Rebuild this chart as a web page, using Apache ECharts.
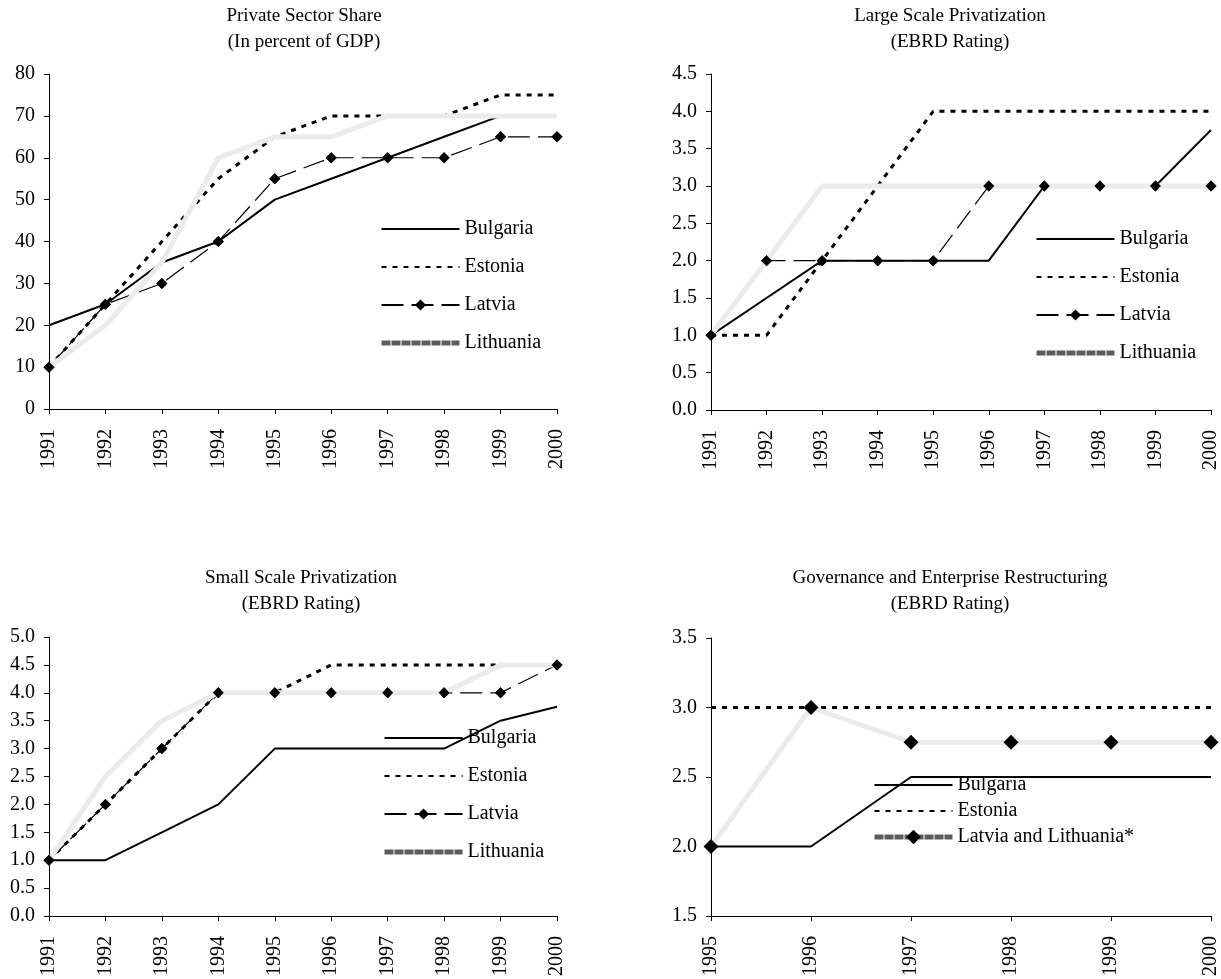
<!DOCTYPE html>
<html>
<head>
<meta charset="utf-8">
<title>Baltic States and Bulgaria: Privatization Indicators</title>
<script src="https://cdn.jsdelivr.net/npm/echarts@6/dist/echarts.min.js"></script>
<style>
  html, body { margin: 0; padding: 0; background: #fff; }
  #chart { width: 1221px; height: 979px; }
</style>
</head>
<body>
<div id="chart"></div>
<script>
// Years on the horizontal axes
const years9100 = ['1991', '1992', '1993', '1994', '1995', '1996', '1997', '1998', '1999', '2000'];
const years9500 = ['1995', '1996', '1997', '1998', '1999', '2000'];

// Private sector share (in percent of GDP)
const privBulgaria  = [20, 25, 35, 40, 50, 55, 60, 65, 70, 70];
const privEstonia   = [10, 25, 40, 55, 65, 70, 70, 70, 75, 75];
const privLatvia    = [10, 25, 30, 40, 55, 60, 60, 60, 65, 65];
const privLithuania = [10, 20, 35, 60, 65, 65, 70, 70, 70, 70];

// Large scale privatization (EBRD rating)
const largeBulgaria  = [1, 1.5, 2, 2, 2, 2, 3, 3, 3, 3.75];
const largeEstonia   = [1, 1, 2, 3, 4, 4, 4, 4, 4, 4];
const largeLatvia    = [1, 2, 2, 2, 2, 3, 3, 3, 3, 3];
const largeLithuania = [1, 2, 3, 3, 3, 3, 3, 3, 3, 3];

// Small scale privatization (EBRD rating)
const smallBulgaria  = [1, 1, 1.5, 2, 3, 3, 3, 3, 3.5, 3.75];
const smallEstonia   = [1, 2, 3, 4, 4, 4.5, 4.5, 4.5, 4.5, 4.5];
const smallLatvia    = [1, 2, 3, 4, 4, 4, 4, 4, 4, 4.5];
const smallLithuania = [1, 2.5, 3.5, 4, 4, 4, 4, 4, 4.5, 4.5];

// Governance and enterprise restructuring (EBRD rating)
const govBulgaria = [2, 2, 2.5, 2.5, 2.5, 2.5];
const govEstonia  = [3, 3, 3, 3, 3, 3];
const govLatLit   = [2, 3, 2.75, 2.75, 2.75, 2.75];

const FONT = '"Liberation Serif", "Times New Roman", serif';
const BLACK = '#000';
const PALE = '#ebebeb';       // light band used for Lithuania
const LEGEND_PALE = '#5c5c5c';

// Panel layout
const panels = [
  { title: 'Private Sector Share\n(In percent of GDP)', tx: 304, ty: 3,
    grid: { left: 49, top: 74, width: 508, height: 335 },
    cats: years9100, min: 0, max: 80, interval: 10, dec: 0,
    legend: { left: 379, top: 219, gap: 18, h: 14 } },
  { title: 'Large Scale Privatization\n(EBRD Rating)', tx: 950, ty: 3,
    grid: { left: 711, top: 74, width: 502, height: 336 },
    cats: years9100, min: 0, max: 4.5, interval: 0.5, dec: 1,
    legend: { left: 1034, top: 229, gap: 18, h: 14 } },
  { title: 'Small Scale Privatization\n(EBRD Rating)', tx: 301, ty: 565,
    grid: { left: 49, top: 637, width: 508, height: 325 },
    cats: years9100, min: 0, max: 5, interval: 0.5, dec: 1,
    legend: { left: 382, top: 728, gap: 18, h: 14 } },
  { title: 'Governance and Enterprise Restructuring\n(EBRD Rating)', tx: 950, ty: 565,
    grid: { left: 711, top: 638, width: 502, height: 324 },
    cats: years9500, min: 1.5, max: 3.5, interval: 0.5, dec: 1,
    legend: { left: 872, top: 775, gap: 6, h: 18 } }
];

const title = panels.map(p => ({
  text: p.title,
  left: p.tx,
  top: p.ty,
  textAlign: 'center',
  padding: 0,
  textStyle: { fontFamily: FONT, fontSize: 19, fontWeight: 'normal', color: BLACK, lineHeight: 26 }
}));

const grid = panels.map(p => Object.assign({ containLabel: false }, p.grid));

const xAxis = panels.map((p, i) => ({
  type: 'category',
  gridIndex: i,
  data: p.cats,
  boundaryGap: false,
  axisLine: { lineStyle: { color: BLACK, width: 1 } },
  axisTick: { show: true, length: 5, alignWithLabel: true, lineStyle: { color: BLACK } },
  axisLabel: { rotate: 90, margin: 20, color: BLACK, fontFamily: FONT, fontSize: 20, interval: 0 },
  splitLine: { show: false }
}));

const yAxis = panels.map((p, i) => ({
  type: 'value',
  gridIndex: i,
  min: p.min,
  max: p.max,
  interval: p.interval,
  axisLine: { show: true, lineStyle: { color: BLACK, width: 1 } },
  axisTick: { show: true, length: 5, lineStyle: { color: BLACK } },
  axisLabel: {
    margin: 14, color: BLACK, fontFamily: FONT, fontSize: 20,
    formatter: v => v.toFixed(p.dec)
  },
  splitLine: { show: false }
}));

// Series builders
function bulgaria(idx, data) {
  return { name: 'Bulgaria', type: 'line', xAxisIndex: idx, yAxisIndex: idx, data,
    symbol: 'none', z: 2, lineStyle: { color: BLACK, width: 2 }, itemStyle: { color: BLACK } };
}
function estonia(idx, data) {
  return { name: 'Estonia', type: 'line', xAxisIndex: idx, yAxisIndex: idx, data,
    symbol: 'none', z: 2, lineStyle: { color: BLACK, width: 3, type: [5, 6] }, itemStyle: { color: BLACK } };
}
function latvia(idx, data) {
  return { name: 'Latvia', type: 'line', xAxisIndex: idx, yAxisIndex: idx, data,
    symbol: 'diamond', symbolSize: 11, showAllSymbol: true, z: 2,
    lineStyle: { color: BLACK, width: 1.2, type: [22, 8] }, itemStyle: { color: BLACK } };
}
function latviaMarks(idx, data) {
  // diamonds repeated above the pale Lithuania band
  return { name: 'Latvia', type: 'line', xAxisIndex: idx, yAxisIndex: idx, data,
    symbol: 'diamond', symbolSize: 11, showAllSymbol: true, z: 4,
    lineStyle: { width: 0, opacity: 0 }, itemStyle: { color: BLACK } };
}
function lithuania(idx, data) {
  return { name: 'Lithuania', type: 'line', xAxisIndex: idx, yAxisIndex: idx, data,
    symbol: 'none', z: 3, lineStyle: { color: PALE, width: 5 }, itemStyle: { color: PALE } };
}

const series = [
  bulgaria(0, privBulgaria), estonia(0, privEstonia), latvia(0, privLatvia),
  lithuania(0, privLithuania), latviaMarks(0, privLatvia),

  bulgaria(1, largeBulgaria), estonia(1, largeEstonia), latvia(1, largeLatvia),
  lithuania(1, largeLithuania), latviaMarks(1, largeLatvia),

  bulgaria(2, smallBulgaria), estonia(2, smallEstonia), latvia(2, smallLatvia),
  lithuania(2, smallLithuania), latviaMarks(2, smallLatvia),

  bulgaria(3, govBulgaria), estonia(3, govEstonia),
  { name: 'Latvia and Lithuania*', type: 'line', xAxisIndex: 3, yAxisIndex: 3, data: govLatLit,
    symbol: 'diamond', symbolSize: 15, showAllSymbol: true, z: 3,
    lineStyle: { color: PALE, width: 5 }, itemStyle: { color: BLACK } }
];

const legendText = { fontFamily: FONT, fontSize: 20, color: BLACK, lineHeight: 20 };
const noMark = { opacity: 0 };
const paleKey = { color: LEGEND_PALE, width: 5, type: [9, 1] };

const legend = panels.map((p, i) => {
  const names = i < 3
    ? [{ name: 'Bulgaria', itemStyle: noMark }, { name: 'Estonia', itemStyle: noMark },
       { name: 'Latvia' }, { name: 'Lithuania', itemStyle: noMark, lineStyle: paleKey }]
    : [{ name: 'Bulgaria', itemStyle: noMark }, { name: 'Estonia', itemStyle: noMark },
       { name: 'Latvia and Lithuania*', lineStyle: paleKey }];
  return {
    orient: 'vertical',
    left: p.legend.left,
    top: p.legend.top,
    padding: 0,
    itemWidth: 78,
    itemHeight: p.legend.h,
    itemGap: p.legend.gap,
    selectedMode: false,
    textStyle: legendText,
    data: names
  };
});

const chart = echarts.init(document.getElementById('chart'), null, { renderer: 'canvas' });
chart.setOption({
  backgroundColor: '#fff',
  animation: false,
  title, grid, xAxis, yAxis, legend, series
});
</script>
</body>
</html>
